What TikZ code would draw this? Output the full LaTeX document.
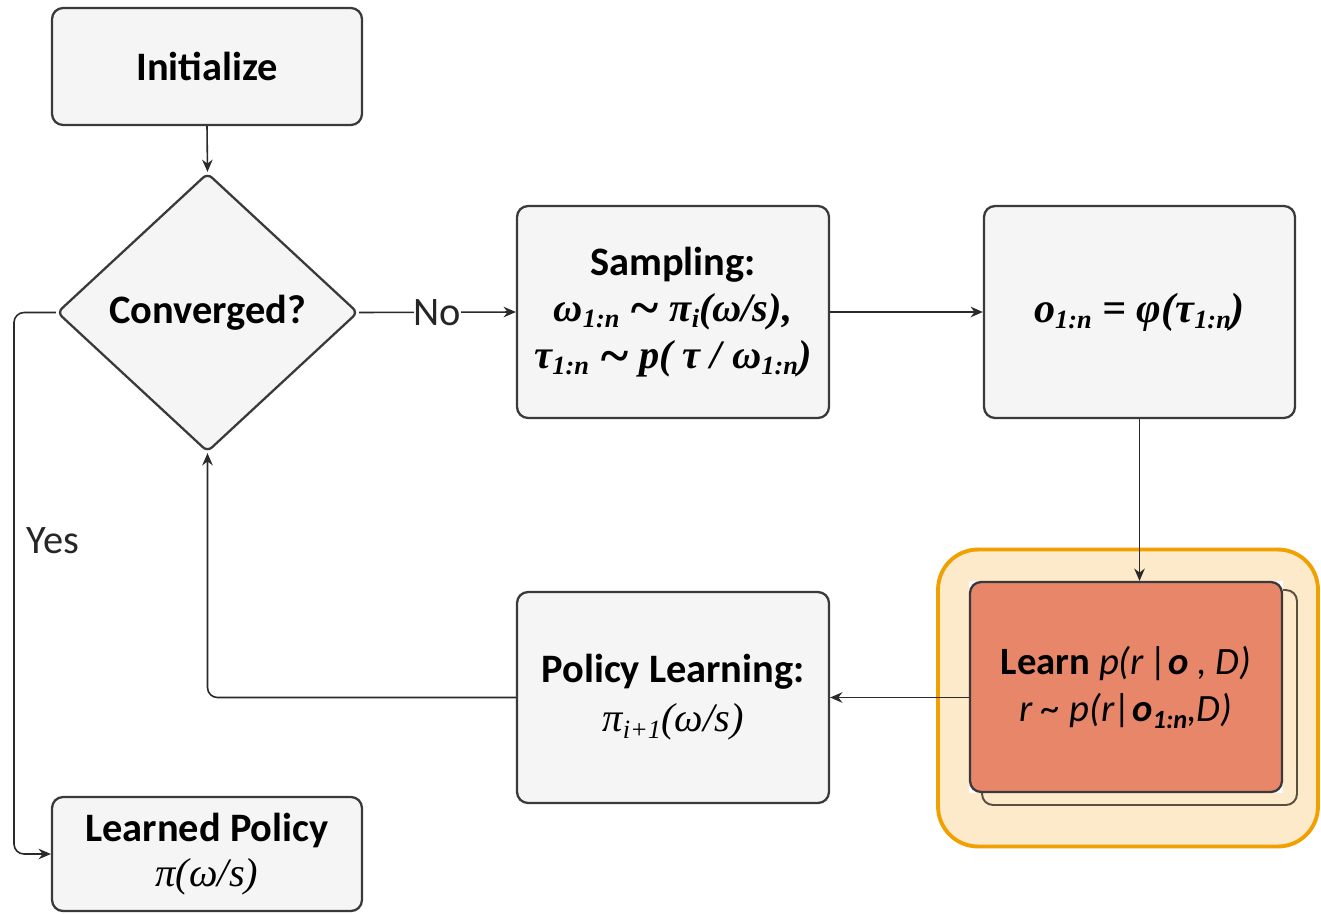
\documentclass[tikz,border=0pt]{standalone}
\usepackage{fontspec}
\setmainfont{Carlito}
\newfontfamily\mf{Liberation Serif}
\usetikzlibrary{shapes.geometric,arrows.meta,calc}
\definecolor{boxfill}{HTML}{F5F5F5}
\definecolor{boxline}{HTML}{3A3A3A}
\definecolor{learnfill}{HTML}{E8866A}
\definecolor{hlfill}{HTML}{FCEACB}
\definecolor{hlline}{HTML}{F0A000}
\definecolor{shadowline}{HTML}{5A5040}
\definecolor{arr}{HTML}{2A2A2A}
\newcommand{\sbs}[1]{\raisebox{-0.35ex}{\fontsize{15}{15}\selectfont #1}}
\newcommand{\tld}{\raisebox{-0.25ex}{\scalebox{1.3}{\textasciitilde}}}
\tikzset{
  stepbox/.style={draw=boxline, fill=boxfill, line width=1.3pt, rounded corners=0.22cm,
    align=center, inner sep=0pt, font=\fontsize{23}{27}\selectfont},
  conn/.style={draw=arr, line width=0.9pt, -{Stealth[length=7pt,width=6pt]}},
  lbl/.style={font=\fontsize{23}{27}\selectfont, text=black!85}
}
\begin{document}
\begin{tikzpicture}[x=0.02cm,y=-0.02cm]
\useasboundingbox (0,0) rectangle (1321,913);
% highlight region
\node[draw=hlline, fill=hlfill, line width=2.2pt, rounded corners=0.8cm,
  minimum width=7.6cm, minimum height=5.94cm, inner sep=0pt] (hl) at (1128,698) {};
\node[draw=shadowline, fill=hlfill, line width=1.1pt, rounded corners=0.22cm,
  minimum width=6.3cm, minimum height=4.3cm, inner sep=0pt] (shadow) at (1139.5,697.5) {};
\node[fill=white, minimum width=6.3cm, minimum height=4.24cm, inner sep=0pt] (backing) at (1126,687) {};
% nodes
\node[stepbox, minimum width=6.2cm, minimum height=2.34cm] (init) at (207,66.5) {\textbf{Initialize}};
\node[draw=boxline, fill=boxfill, line width=1.3pt, diamond, rounded corners=0.12cm,
  minimum width=6.02cm, minimum height=5.58cm, inner sep=0pt,
  font=\fontsize{23}{27}\selectfont] (conv) at (207.5,312.5) {\textbf{Converged?}};
\node[stepbox, minimum width=6.24cm, minimum height=4.24cm] (samp) at (673,312)
  {\textbf{Sampling:}\\[-1pt]
   {\mf\bfseries\itshape ω\sbs{1:n} \tld{} π\sbs{i}(ω/s),}\\
   {\mf\bfseries\itshape τ\sbs{1:n} \tld{} p( τ / ω\sbs{1:n})}};
\node[stepbox, minimum width=6.22cm, minimum height=4.24cm] (obs) at (1139.5,312)
  {{\mf\bfseries\itshape\fontsize{24}{27}\selectfont o\sbs{1:n} = φ(τ\sbs{1:n})}};
\node[stepbox, fill=learnfill, minimum width=6.24cm, minimum height=4.2cm,
  font=\fontsize{22}{27}\selectfont] (learn) at (1126,687)
  {\textbf{Learn} \textit{p(r\,|\textbf{o} , D)}\\
   \textit{r \textasciitilde{} p(r|\textbf{o}\sbs{\textbf{1:n}},D)}};
\node[stepbox, minimum width=6.24cm, minimum height=4.22cm] (pol) at (673,697.5)
  {\textbf{Policy Learning:}\\[1pt]
   {\mf\itshape π\sbs{i+1}(ω/s)}};
\node[stepbox, minimum width=6.2cm, minimum height=2.28cm] (lp) at (207,854)
  {\textbf{Learned Policy}\\[-1pt]
   {\mf\itshape π(ω/s)}};
% labels
\node[lbl] (yes) at (53,541) {Yes};
% connectors
\draw[conn] (init.south) -- (conv.north);
\draw[conn] (conv.east) -- node[lbl, fill=white, inner sep=0pt] (no) {No} (samp.west);
\draw[conn] (samp.east) -- (obs.west);
\draw[conn] (obs.south) -- (obs.south |- learn.north);
\draw[conn] (pol.east -| learn.west) -- (pol.east);
\draw[conn, rounded corners=0.2cm] (pol.west) -| (conv.south);
\coordinate (lx) at (14,312.5);
\draw[conn, rounded corners=0.2cm] (conv.west) -- (lx) |- (lp.west);
\end{tikzpicture}
\end{document}
